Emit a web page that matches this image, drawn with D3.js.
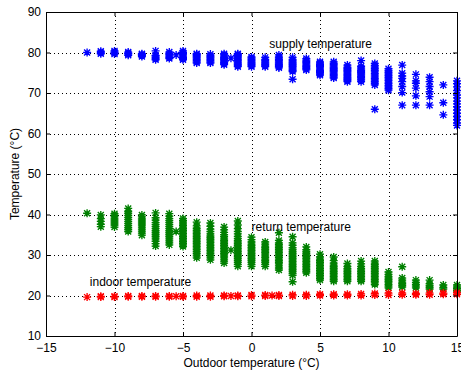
<!DOCTYPE html>
<html>
<head>
<meta charset="utf-8">
<script src="https://cdn.jsdelivr.net/npm/d3@7"></script>
<style>
  body { margin: 0; background: #fff; }
  text { font-family: "Liberation Sans", Arial, sans-serif; }
</style>
</head>
<body>
<svg id="chart" width="461" height="371"></svg>
<script>
// outdoor temperature, list of measured supply / return / indoor temps
const supplyData = [
  [-12, [80.0]],
  [-11, [79.7, 80.0, 80.3]],
  [-10, [79.6, 79.9, 80.1, 80.4]],
  [-9, [79.3, 79.6, 79.8, 80.1]],
  [-8, [79.0, 79.3, 79.5, 79.7]],
  [-7, [78.2, 78.5, 78.8, 79.1, 79.3, 80.4]],
  [-6, [78.5, 78.8, 79.1, 79.4, 79.7, 80.1]],
  [-5.5, [79.4]],
  [-5, [78.2, 78.5, 78.8, 79.1, 79.4, 79.7, 80.0, 80.4]],
  [-4, [77.4, 77.7, 78.0, 78.3, 78.6, 78.9, 79.2, 79.5, 79.7]],
  [-3, [77.4, 77.7, 78.0, 78.3, 78.6, 78.9, 79.2, 79.6]],
  [-2, [77.0, 77.3, 77.6, 77.9, 78.2, 78.5, 78.8, 79.1, 79.4, 79.7]],
  [-1.5, [78.6]],
  [-1, [76.5, 76.8, 77.1, 77.4, 77.7, 78.0, 78.3, 78.6, 78.9, 79.2, 79.5, 79.7]],
  [0, [76.5, 76.8, 77.1, 77.4, 77.7, 78.0, 78.3, 78.6, 78.9]],
  [1, [76.5, 76.8, 77.1, 77.4, 77.7, 78.0, 78.3, 78.8]],
  [2, [76.2, 76.5, 76.8, 77.1, 77.4, 77.7, 78.0, 78.3, 78.6, 78.9, 79.4]],
  [3, [73.4, 75.3, 75.6, 75.9, 76.2, 76.5, 76.8, 77.1, 77.4, 77.7, 78.0, 78.3, 78.8]],
  [4, [75.7, 76.0, 76.3, 76.6, 76.9, 77.2, 77.5, 77.8, 78.1, 78.5]],
  [5, [74.4, 74.7, 75.0, 75.3, 75.6, 75.9, 76.2, 76.5, 76.8, 77.1, 77.4, 77.7]],
  [6, [73.7, 74.0, 74.3, 74.6, 74.9, 75.2, 75.5, 75.8, 76.1, 76.4, 76.7, 77.0, 77.3, 77.7]],
  [7, [72.8, 73.1, 73.4, 73.7, 74.0, 74.3, 74.6, 74.9, 75.2, 75.5, 75.8, 76.1, 76.4, 76.9]],
  [8, [72.8, 73.2, 73.5, 73.8, 74.1, 74.4, 74.7, 75.0, 75.3, 75.6, 75.9, 76.2, 76.6, 78.0]],
  [9, [66.0, 72.0, 72.4, 72.8, 73.2, 73.6, 74.0, 74.4, 74.8, 75.2, 75.6, 76.0, 76.4, 76.8, 77.3]],
  [10, [70.7, 71.1, 71.5, 71.9, 72.3, 72.7, 73.1, 73.5, 73.9, 74.3, 74.7, 75.1, 75.5, 76.0]],
  [11, [67.0, 70.1, 71.6, 72.8, 73.6, 74.2, 74.9, 76.9]],
  [12, [67.0, 69.3, 71.2, 72.4, 73.0, 74.6]],
  [13, [67.0, 69.1, 70.3, 71.6, 72.8, 73.9]],
  [14, [64.6, 67.6, 72.0]],
  [15, [62.0, 62.6, 63.4, 64.2, 65.0, 65.8, 66.6, 67.3, 68.0, 68.8, 69.5, 70.6, 71.5, 72.3, 73.0]]
];

const returnData = [
  [-12, [40.3]],
  [-11, [37.0, 37.6, 38.3, 39.0, 39.9]],
  [-10, [36.9, 37.4, 37.9, 38.4, 38.9, 39.4, 39.8, 40.2]],
  [-9, [35.8, 36.3, 36.8, 37.3, 37.8, 38.3, 38.8, 39.3, 39.8, 40.3, 40.8, 41.5]],
  [-8, [34.9, 35.4, 35.9, 36.4, 36.9, 37.4, 37.9, 38.4, 38.9, 39.4, 39.9]],
  [-7, [32.2, 32.8, 33.4, 34.0, 34.5, 35.0, 35.5, 36.0, 36.5, 37.0, 37.5, 38.0, 38.6, 39.2, 40.4]],
  [-6, [32.5, 33.0, 33.5, 34.0, 34.5, 35.0, 35.5, 36.0, 36.5, 37.0, 37.5, 38.0, 38.5, 39.0, 39.6, 40.2]],
  [-5.5, [35.8]],
  [-5, [32.1, 32.5, 32.9, 33.3, 33.7, 34.1, 34.5, 34.9, 35.3, 35.7, 36.1, 36.5, 36.9, 37.3, 37.7, 38.1, 38.5, 39.0]],
  [-4, [29.3, 29.8, 30.3, 30.8, 31.3, 31.7, 32.1, 32.5, 32.9, 33.3, 33.7, 34.1, 34.5, 34.9, 35.3, 35.7, 36.1, 36.6, 37.2, 38.1]],
  [-3, [28.8, 29.3, 29.8, 30.3, 30.7, 31.1, 31.5, 31.9, 32.3, 32.7, 33.1, 33.5, 33.9, 34.3, 34.7, 35.2, 35.8, 36.4, 37.1, 37.9]],
  [-2, [28.0, 28.5, 29.0, 29.5, 30.0, 30.4, 30.8, 31.2, 31.6, 32.0, 32.4, 32.8, 33.2, 33.6, 34.0, 34.5, 35.0, 35.6, 36.2, 36.9]],
  [-1.5, [31.2]],
  [-1, [27.2, 27.7, 28.2, 28.7, 29.2, 29.6, 30.0, 30.4, 30.8, 31.2, 31.6, 32.0, 32.4, 32.8, 33.2, 33.6, 34.1, 34.6, 35.2, 35.8, 36.5, 37.4, 38.4]],
  [0, [27.2, 27.7, 28.2, 28.7, 29.1, 29.5, 29.9, 30.3, 30.7, 31.1, 31.5, 31.9, 32.3, 32.7, 33.2, 33.8, 34.4]],
  [1, [27.2, 27.7, 28.2, 28.6, 29.0, 29.4, 29.8, 30.2, 30.6, 31.0, 31.4, 31.8, 32.2, 32.7, 33.2]],
  [2, [26.3, 26.8, 27.3, 27.8, 28.2, 28.6, 29.0, 29.4, 29.8, 30.2, 30.6, 31.0, 31.4, 31.8, 32.2, 32.6, 33.0, 33.6, 35.5]],
  [3, [23.4, 25.0, 25.5, 26.0, 26.4, 26.8, 27.2, 27.6, 28.0, 28.4, 28.8, 29.2, 29.6, 30.0, 30.4, 30.8, 31.3, 31.8, 32.4, 33.0, 34.5]],
  [4, [25.6, 26.0, 26.4, 26.8, 27.2, 27.6, 28.0, 28.4, 28.8, 29.2, 29.6, 30.0, 30.4, 30.8, 31.3, 32.0]],
  [5, [23.8, 24.2, 24.6, 25.0, 25.4, 25.8, 26.2, 26.6, 27.0, 27.4, 27.8, 28.2, 28.6, 29.0, 29.5, 30.2]],
  [6, [23.5, 23.9, 24.3, 24.7, 25.1, 25.5, 25.9, 26.3, 26.7, 27.1, 27.5, 28.0, 28.6, 29.5]],
  [7, [23.5, 23.9, 24.3, 24.7, 25.1, 25.5, 25.9, 26.3, 26.7, 27.2, 27.9]],
  [8, [23.5, 23.9, 24.3, 24.7, 25.1, 25.5, 25.9, 26.3, 26.7, 27.2, 27.8, 28.5]],
  [9, [22.7, 23.1, 23.5, 23.9, 24.3, 24.7, 25.1, 25.5, 25.9, 26.3, 26.7, 27.1, 27.6, 28.0, 28.5]],
  [10, [21.9, 22.3, 22.7, 23.1, 23.5, 23.9, 24.3, 24.7, 25.2, 25.8]],
  [11, [22.1, 22.5, 22.9, 23.3, 23.8, 24.3, 27.1]],
  [12, [21.9, 22.3, 22.7, 23.2, 23.8]],
  [13, [21.6, 22.0, 22.4, 22.9, 23.8]],
  [14, [21.6, 22.0, 22.6]],
  [15, [20.9, 21.3, 21.7, 22.1, 22.6]]
];

const indoorData = [
  [-12, [19.6]], [-11, [19.6, 19.8]], [-10, [19.6, 19.8]], [-9, [19.7, 19.9]],
  [-8, [19.7, 19.9]], [-7, [19.7, 19.9]], [-6, [19.7, 19.9]], [-5.5, [19.8]],
  [-5, [19.7, 19.9]], [-4, [19.7, 20.0]], [-3, [19.7, 20.0]], [-2, [19.8, 20.0]],
  [-1.5, [19.9]], [-1, [19.8, 20.0]], [0, [19.8, 20.1]], [1, [19.9, 20.1]],
  [1.5, [20.0]], [2, [19.9, 20.1]], [3, [19.9, 20.2]], [4, [19.9, 20.2]],
  [5, [20.0, 20.3]], [6, [20.0, 20.3]], [7, [20.0, 20.3]], [8, [20.0, 20.4]],
  [9, [20.1, 20.5]], [10, [20.1, 20.6]], [11, [20.2, 20.6]], [12, [20.2, 20.5]],
  [13, [20.2, 20.6]], [14, [20.3, 20.6]], [15, [20.3, 20.7]]
];

const xTicks = [-15, -10, -5, 0, 5, 10, 15];
const yTicks = [10, 20, 30, 40, 50, 60, 70, 80, 90];

// text labels [x, y, text]
const labels = [
  [1.3, 81.0, 'supply temperature'],
  [0.0, 35.9, 'return temperature'],
  [-11.8, 22.4, 'indoor temperature']
];

const svg = d3.select('#chart');
const margin = {left: 46, right: 457, top: 12, bottom: 336};

const x = d3.scaleLinear().domain([-15, 15]).range([margin.left, margin.right]);
const y = d3.scaleLinear().domain([10, 90]).range([margin.bottom, margin.top]);

// grid
const grid = svg.append('g')
  .attr('stroke', '#000')
  .attr('stroke-dasharray', '1,3')
  .attr('shape-rendering', 'crispEdges');

grid.selectAll('.gx').data(xTicks.slice(1, -1)).join('line')
  .attr('x1', d => Math.round(x(d)) + 0.5).attr('x2', d => Math.round(x(d)) + 0.5)
  .attr('y1', margin.top).attr('y2', margin.bottom);

grid.selectAll('.gy').data(yTicks.slice(1, -1)).join('line')
  .attr('y1', d => Math.round(y(d)) + 0.5).attr('y2', d => Math.round(y(d)) + 0.5)
  .attr('x1', margin.left).attr('x2', margin.right);

// star marker like matlab '*'
const star = 'M-4,0H4M0,-4V4M-3,-3L3,3M-3,3L3,-3';

const flat = data => data.flatMap(([t, vals]) => vals.map(v => [t, v]));

const series = [
  {data: supplyData, color: '#0000ff'},
  {data: returnData, color: '#008000'},
  {data: indoorData, color: '#ff0000'}
];

series.forEach(s => {
  svg.append('g')
    .attr('fill', 'none')
    .attr('stroke', s.color)
    .attr('stroke-width', 1.35)
    .selectAll('path')
    .data(flat(s.data))
    .join('path')
    .attr('d', star)
    .attr('transform', d => `translate(${x(d[0])},${y(d[1])})`);
});

// axes, ticks inside
svg.append('g')
  .attr('transform', `translate(0,${margin.bottom})`)
  .call(d3.axisBottom(x).tickValues(xTicks).tickSizeInner(-4).tickSizeOuter(0).tickPadding(7));

svg.append('g')
  .attr('transform', `translate(${margin.left},0)`)
  .call(d3.axisLeft(y).tickValues(yTicks).tickSizeInner(-4).tickSizeOuter(0).tickPadding(5));

svg.append('g')
  .attr('transform', `translate(0,${margin.top})`)
  .call(d3.axisTop(x).tickValues(xTicks).tickSizeInner(-4).tickSizeOuter(0).tickFormat(''));

svg.append('g')
  .attr('transform', `translate(${margin.right},0)`)
  .call(d3.axisRight(y).tickValues(yTicks).tickSizeInner(-4).tickSizeOuter(0).tickFormat(''));

svg.selectAll('.domain').attr('stroke', '#000');
svg.selectAll('.tick line').attr('stroke', '#000');
svg.selectAll('.tick text')
  .style('font-size', '12px')
  .style('font-family', '"Liberation Sans", Arial, sans-serif')
  .attr('fill', '#000');

// series labels
svg.append('g').selectAll('text').data(labels).join('text')
  .attr('x', d => x(d[0]))
  .attr('y', d => y(d[1]))
  .attr('font-size', 12)
  .attr('fill', '#000')
  .text(d => d[2]);

// axis titles
svg.append('text')
  .attr('x', (margin.left + margin.right) / 2)
  .attr('y', 367)
  .attr('text-anchor', 'middle')
  .attr('font-size', 12)
  .text('Outdoor temperature (°C)');

svg.append('text')
  .attr('transform', `translate(19,${(margin.top + margin.bottom) / 2}) rotate(-90)`)
  .attr('text-anchor', 'middle')
  .attr('font-size', 12)
  .text('Temperature (°C)');
</script>
</body>
</html>
